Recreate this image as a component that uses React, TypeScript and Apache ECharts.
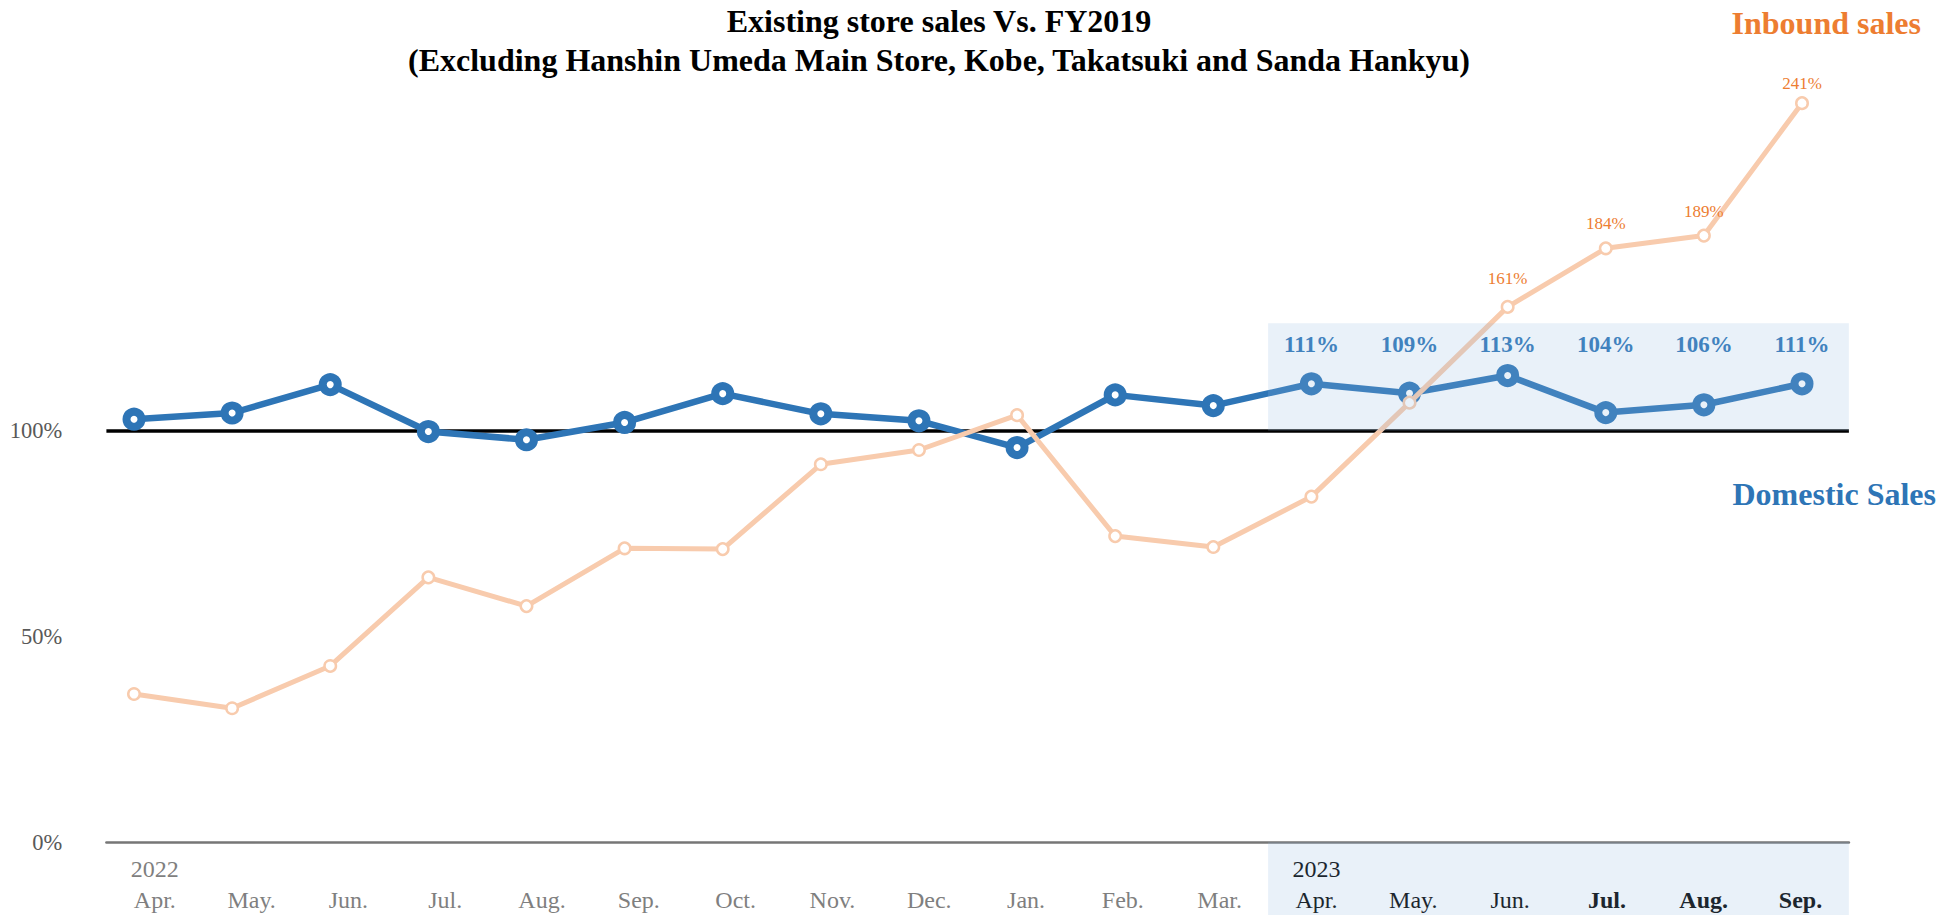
import React, { useEffect, useRef } from 'react';
import * as echarts from 'echarts';

// ---------- data ----------
const MONTHS = ['Apr.', 'May.', 'Jun.', 'Jul.', 'Aug.', 'Sep.', 'Oct.', 'Nov.', 'Dec.', 'Jan.', 'Feb.', 'Mar.', 'Apr.', 'May.', 'Jun.', 'Jul.', 'Aug.', 'Sep.'];
const YEARS = ['2022', '', '', '', '', '', '', '', '', '', '', '', '2023', '', '', '', '', ''];
const DOMESTIC = [102.8, 104.3, 111.2, 99.8, 97.8, 102.0, 109.0, 104.1, 102.4, 95.9, 108.7, 106.1, 111.4, 109.1, 113.4, 104.4, 106.3, 111.4];
const INBOUND = [9.0, 3.4, 20.0, 54.8, 43.5, 66.2, 65.9, 99.2, 104.8, 118.5, 71.0, 66.7, 86.5, 123.4, 161, 184, 189, 241];
const Y_TICKS_SHOWN_MAX = 100;
const CURRENT_FROM = 12; // first month of the highlighted period
const BOLD_FROM = 15; // months shown in bold
const INBOUND_LABEL_FROM = 14;
const TITLE = 'Existing store sales Vs. FY2019\n(Excluding Hanshin Umeda Main Store, Kobe, Takatsuki and Sanda Hankyu)';

// ---------- layout ----------
const W = 1950;
const H = 915;
const AXIS_Y = 842.3; // pixel of 0 %
const PX_PCT = 4.116; // pixels per % on the primary axis
const PRIMARY_MAX = 200;
const GRID_TOP = AXIS_Y - PRIMARY_MAX * PX_PCT;
const GRID_BOTTOM = H - AXIS_Y;
const INB_ZERO_Y = 716.9;
const INB_PX = 2.5466;
const INB_MIN = (INB_ZERO_Y - AXIS_Y) / INB_PX;
const INB_MAX = (INB_ZERO_Y - GRID_TOP) / INB_PX;
const LABEL_LEVEL = 121;
const HIGHLIGHT_TOP = 126.1;

const FONT = '"Liberation Serif", "Times New Roman", serif';
const BLUE = '#2e75b6';
const PEACH = '#f8cbad';
const ORANGE = '#ed7d31';
const HIGHLIGHT = 'rgba(145,185,225,0.2)';
const XFS = 24;

export default function App() {
  const ref = useRef<HTMLDivElement>(null);
  useEffect(() => {
    if (!ref.current) return;
    const chart = echarts.init(ref.current, undefined, { renderer: 'svg' });
    const n = MONTHS.length;
    const monthStyle = (i: number) => (i >= BOLD_FROM ? 'mb' : i >= CURRENT_FROM ? 'm23' : 'm22');
    const axisLeft = 106.4;
    const axisRight = W - 1848.9;
    const option: any = {
      animation: false,
      backgroundColor: '#ffffff',
      grid: [
        { left: 84.94, right: W - 1851.06, top: GRID_TOP, bottom: GRID_BOTTOM, containLabel: false, outerBoundsMode: 'none' },
        { left: axisLeft, right: axisRight, top: GRID_TOP, bottom: GRID_BOTTOM, containLabel: false, outerBoundsMode: 'none' },
        { left: axisLeft, right: axisRight, top: AXIS_Y, bottom: 0, containLabel: false, outerBoundsMode: 'none' },
      ],
      xAxis: [
        { type: 'category', gridIndex: 0, data: MONTHS, boundaryGap: true, show: false },
        {
          type: 'category',
          gridIndex: 1,
          data: MONTHS,
          boundaryGap: true,
          axisLine: { show: true, onZero: false, lineStyle: { color: '#767676', width: 2.5 } },
          axisTick: { show: false },
          splitLine: { show: false },
          axisLabel: {
            interval: 0,
            margin: 11,
            formatter: (value: string, index: number) => {
              const y = YEARS[index];
              const yearPart = y ? `{${index >= CURRENT_FROM ? 'y23' : 'y22'}|${y}}` : '{sp| }';
              return `${yearPart}\n{${monthStyle(index)}|${value}}`;
            },
            rich: {
              y22: { color: '#7f7f7f', fontSize: XFS, lineHeight: 31, fontFamily: FONT },
              y23: { color: '#000000', fontSize: XFS, lineHeight: 31, fontFamily: FONT },
              sp: { fontSize: XFS, lineHeight: 31, fontFamily: FONT },
              m22: { color: '#7f7f7f', fontSize: XFS, lineHeight: 31, fontFamily: FONT },
              m23: { color: '#000000', fontSize: XFS, lineHeight: 31, fontFamily: FONT },
              mb: { color: '#000000', fontSize: XFS, lineHeight: 31, fontFamily: FONT, fontWeight: 'bold' },
            },
          },
        },
        { type: 'value', gridIndex: 1, min: -0.5, max: n - 0.5, show: false, position: 'top' },
        { type: 'value', gridIndex: 2, min: -0.5, max: n - 0.5, show: false },
      ],
      yAxis: [
        {
          type: 'value',
          gridIndex: 0,
          min: 0,
          max: PRIMARY_MAX,
          interval: 50,
          axisLine: { show: false },
          axisTick: { show: false },
          splitLine: { show: false },
          axisLabel: {
            margin: 22.6,
            color: '#595959',
            fontSize: 22.5,
            fontFamily: FONT,
            formatter: (v: number) => (v <= Y_TICKS_SHOWN_MAX ? `${v}%` : ''),
          },
        },
        { type: 'value', gridIndex: 0, min: INB_MIN, max: INB_MAX, show: false, position: 'right' },
        { type: 'value', gridIndex: 1, min: 0, max: PRIMARY_MAX, show: false },
        { type: 'value', gridIndex: 2, min: 0, max: 1, show: false },
      ],
      series: [
        {
          type: 'line',
          xAxisIndex: 2,
          yAxisIndex: 2,
          data: [],
          z: 1,
          markLine: {
            silent: true,
            z: 1,
            symbol: ['none', 'none'],
            label: { show: false },
            lineStyle: { color: '#000000', width: 3.5, type: 'solid' },
            data: [{ yAxis: 100 }],
          },
        },
        {
          name: 'Domestic Sales',
          type: 'line',
          xAxisIndex: 0,
          yAxisIndex: 0,
          data: DOMESTIC,
          z: 3,
          symbol: 'circle',
          symbolSize: 15,
          lineStyle: { color: BLUE, width: 6.5 },
          itemStyle: { color: '#ffffff', borderColor: BLUE, borderWidth: 8 },
        },
        {
          name: 'Inbound sales',
          type: 'line',
          xAxisIndex: 0,
          yAxisIndex: 1,
          z: 4,
          data: INBOUND.map((v, i) =>
            i >= INBOUND_LABEL_FROM
              ? {
                  value: v,
                  label: {
                    show: true,
                    position: 'top',
                    distance: i === n - 1 ? 4 : i === INBOUND_LABEL_FROM ? 13 : 9,
                    formatter: '{c}%',
                    color: ORANGE,
                    fontSize: 17,
                    fontFamily: FONT,
                  },
                }
              : v
          ),
          symbol: 'circle',
          symbolSize: 11.5,
          lineStyle: { color: PEACH, width: 5 },
          itemStyle: { color: '#ffffff', borderColor: PEACH, borderWidth: 2.5 },
        },
        {
          type: 'custom',
          xAxisIndex: 0,
          yAxisIndex: 0,
          z: 3,
          data: DOMESTIC.map((v, i) => [i, v]).filter((d) => d[0] >= CURRENT_FROM),
          renderItem: (params: any, api: any) => {
            const idx = api.value(0);
            const val = api.value(1);
            const p = api.coord([idx, LABEL_LEVEL]);
            return {
              type: 'text',
              x: p[0],
              y: p[1],
              style: {
                text: `${Math.round(val)}%`,
                align: 'center',
                verticalAlign: 'middle',
                fill: BLUE,
                fontSize: 23,
                fontWeight: 'bold',
                fontFamily: FONT,
              },
            };
          },
        },
        {
          type: 'line',
          xAxisIndex: 2,
          yAxisIndex: 2,
          data: [],
          z: 10,
          markArea: {
            silent: true,
            z: 10,
            itemStyle: { color: HIGHLIGHT, borderWidth: 0 },
            label: { show: false },
            data: [[{ coord: [CURRENT_FROM - 0.5, 100] }, { coord: [n - 0.5, HIGHLIGHT_TOP] }]],
          },
        },
        {
          type: 'line',
          xAxisIndex: 3,
          yAxisIndex: 3,
          data: [],
          z: 10,
          markArea: {
            silent: true,
            z: 10,
            itemStyle: { color: HIGHLIGHT, borderWidth: 0 },
            label: { show: false },
            data: [[{ coord: [CURRENT_FROM - 0.5, 0] }, { coord: [n - 0.5, 1] }]],
          },
        },
      ],
      graphic: [
        {
          type: 'text',
          x: 939,
          y: 1.5,
          style: {
            text: TITLE,
            align: 'center',
            verticalAlign: 'top',
            fontSize: 32,
            lineHeight: 39,
            fontWeight: 'bold',
            fontFamily: FONT,
            fill: '#000000',
          },
        },
        {
          type: 'text',
          x: 1921,
          y: 23.3,
          style: {
            text: 'Inbound sales',
            align: 'right',
            verticalAlign: 'middle',
            fontSize: 32,
            fontWeight: 'bold',
            fontFamily: FONT,
            fill: ORANGE,
          },
        },
        {
          type: 'text',
          x: 1936,
          y: 494,
          style: {
            text: 'Domestic Sales',
            align: 'right',
            verticalAlign: 'middle',
            fontSize: 32,
            fontWeight: 'bold',
            fontFamily: FONT,
            fill: BLUE,
          },
        },
      ],
    };
    chart.setOption(option);
    return () => chart.dispose();
  }, []);
  return <div ref={ref} style={{ position: 'absolute', left: 0, top: 0, width: W, height: H }} />;
}
